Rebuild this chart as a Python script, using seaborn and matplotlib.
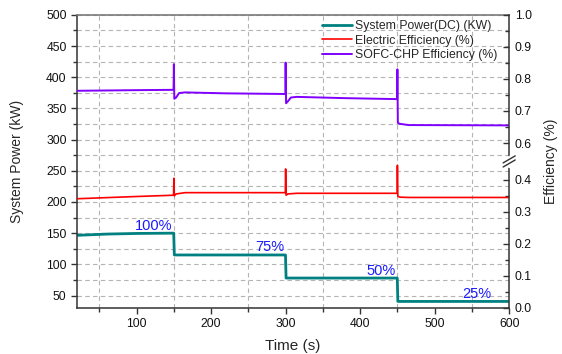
import numpy as np
import matplotlib
matplotlib.use("Agg")
import matplotlib.pyplot as plt
import seaborn as sns
from matplotlib.ticker import MultipleLocator, FixedLocator

# values
time_power = [20, 60, 100, 149.8, 150.6, 299.8, 300.6, 449.8, 450.6, 600]
power_kw = [146.5, 148.5, 149.5, 150, 115, 115, 78, 78, 40.5, 40.5]

time_elec = [20, 100, 149.6, 150, 150.6, 153, 165, 299.6, 300, 300.6, 303, 315,
             449.6, 450, 450.6, 453, 465, 600]
elec_eff = [0.341, 0.348, 0.352, 0.405, 0.350, 0.356, 0.360, 0.360, 0.434, 0.352,
            0.356, 0.358, 0.358, 0.445, 0.349, 0.346, 0.345, 0.345]

time_chp = [20, 100, 149.6, 150, 150.6, 153, 157, 165, 220, 299.6, 300, 300.6,
            303, 307, 315, 380, 449.6, 450, 450.6, 453, 465, 600]
chp_eff = [0.763, 0.765, 0.766, 0.846, 0.738, 0.742, 0.756, 0.758, 0.755, 0.753,
           0.851, 0.724, 0.730, 0.742, 0.744, 0.740, 0.737, 0.830, 0.663, 0.660,
           0.656, 0.655]

load_labels = ["100%", "75%", "50%", "25%"]
load_end_time = [150, 300, 450, 578]
load_level = [150, 115, 78, 40.5]

series_names = ["System Power(DC) (KW)", "Electric Efficiency (%)", "SOFC-CHP Efficiency (%)"]
series_colors = ["#008080", "#ff0000", "#8000ff"]

sns.set_style("ticks")
plt.rcParams["font.family"] = ["Liberation Sans", "DejaVu Sans"]

fig = plt.figure(figsize=(5.62, 3.54), dpi=100)
ax = fig.add_axes([0.137, 0.13, 0.769, 0.828])
ax2 = ax.twinx()

# broken right axis: cut out the band between 0.4575 and 0.5425
gap_lo, gap_hi = 0.4575, 0.5425

def fwd(v):
    v = np.asarray(v, dtype=float)
    return np.where(v <= gap_lo, v, np.where(v >= gap_hi, v - (gap_hi - gap_lo), gap_lo))

def inv(u):
    u = np.asarray(u, dtype=float)
    return np.where(u <= gap_lo, u, u + (gap_hi - gap_lo))

ax2.set_yscale("function", functions=(fwd, inv))

sns.lineplot(x=time_power, y=power_kw, ax=ax, color=series_colors[0], lw=2.0,
             sort=False, estimator=None)
sns.lineplot(x=time_elec, y=elec_eff, ax=ax2, color=series_colors[1], lw=1.2,
             sort=False, estimator=None)
sns.lineplot(x=time_chp, y=chp_eff, ax=ax2, color=series_colors[2], lw=1.4,
             sort=False, estimator=None)

for lab, t, lvl in zip(load_labels, load_end_time, load_level):
    ax.annotate(lab, (t, lvl), xytext=(-1, 2.5), textcoords="offset points",
                ha="right", va="baseline", color="#1a1aff", fontsize=10.5)

ax.set_xlim(20, 600)
ax.set_ylim(30, 500)
ax2.set_ylim(0, 1.0)

ax.xaxis.set_major_locator(FixedLocator([100, 200, 300, 400, 500, 600]))
ax.xaxis.set_minor_locator(FixedLocator([50, 150, 250, 350, 450, 550]))
ax.yaxis.set_major_locator(MultipleLocator(50))
ax.yaxis.set_minor_locator(MultipleLocator(25))
ax2.yaxis.set_major_locator(FixedLocator([0, 0.1, 0.2, 0.3, 0.4, 0.6, 0.7, 0.8, 0.9, 1.0]))
ax2.yaxis.set_minor_locator(FixedLocator([0.05, 0.15, 0.25, 0.35, 0.65, 0.75, 0.85, 0.95]))
ax2.yaxis.set_major_formatter(matplotlib.ticker.FormatStrFormatter("%.1f"))
ax2.yaxis.set_minor_formatter(matplotlib.ticker.NullFormatter())

grid_kw = dict(color="#b4b4b4", linestyle=(0, (4, 3)), linewidth=0.8)
ax.yaxis.grid(True, which="both", **grid_kw)
ax.xaxis.grid(True, which="minor", **grid_kw)
ax.xaxis.grid(False, which="major")

ax.tick_params(axis="both", which="major", direction="out", length=4, width=1,
               labelsize=8.7, colors="#333333", labelcolor="#111111")
ax.tick_params(axis="both", which="minor", direction="out", length=3, width=1,
               colors="#333333")
ax2.tick_params(axis="y", which="major", direction="in", length=4, width=1,
                labelsize=8.7, colors="#333333", labelcolor="#111111", pad=4)
ax2.tick_params(axis="y", which="minor", direction="in", length=3, width=1,
                colors="#333333")

for side in ["left", "bottom"]:
    ax.spines[side].set_color("#333333")
    ax.spines[side].set_linewidth(1.1)
ax.spines["top"].set_visible(True)
ax.spines["top"].set_color("#7a7a7a")
ax.spines["top"].set_linewidth(1.2)
ax.spines["right"].set_visible(False)
ax2.spines["right"].set_visible(True)
ax2.spines["right"].set_color("#333333")
ax2.spines["right"].set_linewidth(1.1)
for side in ["left", "top", "bottom"]:
    ax2.spines[side].set_visible(False)

# break mark on the right axis
yb = float(fwd(gap_lo) / fwd(1.0))
ax2.plot([1, 1], [yb - 0.014, yb + 0.014], transform=ax2.transAxes, color="white",
         lw=2.5, clip_on=False, zorder=5)
for dy in (-0.007, 0.007):
    ax2.plot([0.986, 1.014], [yb - 0.012 + dy, yb + 0.012 + dy], transform=ax2.transAxes,
             color="#333333", lw=1.0, clip_on=False, zorder=6)

ax.set_xlabel("Time (s)", fontsize=11, labelpad=6)
ax.set_ylabel("System Power (kW)", fontsize=10, labelpad=16)
ax2.set_ylabel("Efficiency (%)", fontsize=10, labelpad=9)

handles = ax.get_lines()[:1] + ax2.get_lines()[:2]
ax2.legend(handles, series_names, loc="upper left", bbox_to_anchor=(0.562, 0.99),
           frameon=False, fontsize=8.8, handlelength=2.4, handletextpad=0.3,
           labelspacing=0.2, borderpad=0.2, borderaxespad=0)

fig.savefig("out.png", dpi=100)
